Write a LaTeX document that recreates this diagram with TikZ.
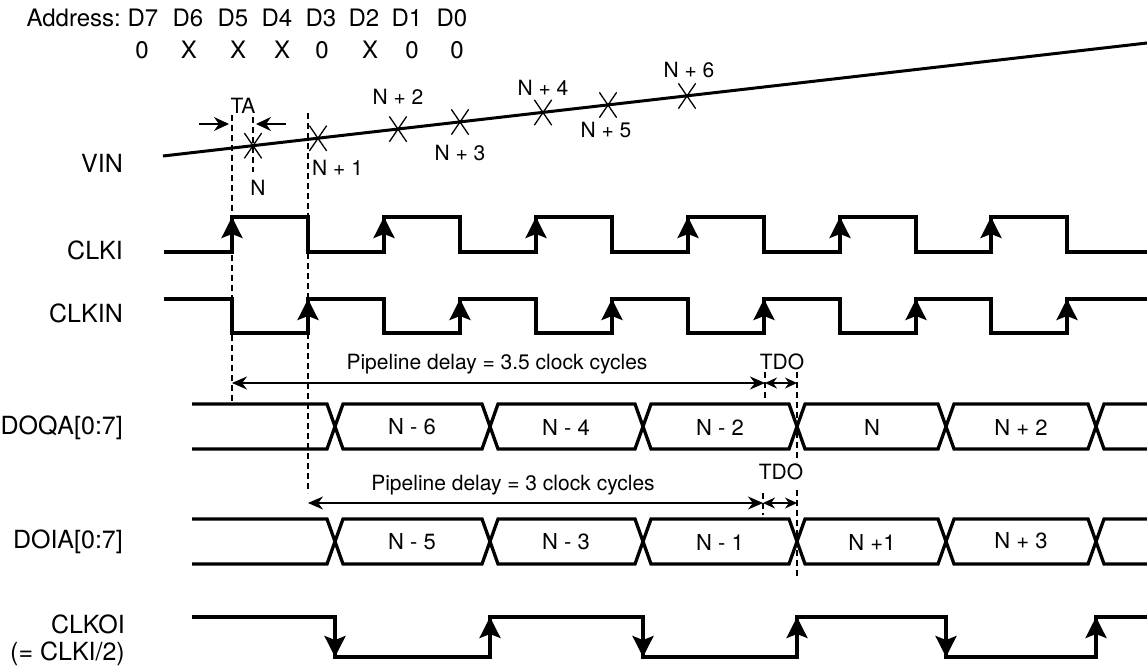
\documentclass[tikz,border=0pt]{standalone}
\usepackage{fontspec}
\setmainfont{TeX Gyre Heros}
\usetikzlibrary{arrows.meta}
\usetikzlibrary{shapes.misc}

\newcommand{\databus}[2]{%
	\draw[wave] (192, #1)--(327, #1)--(343, #2)--(482, #2)--(498, #1)--(635, #1)--(651, #2)--(789, #2)--(805, #1)--(938, #1)--(954, #2)--(1088, #2)--(1104, #1)--(1147, #1);
	\draw[wave] (192, #2)--(327, #2)--(343, #1)--(482, #1)--(498, #2)--(635, #2)--(651, #1)--(789, #1)--(805, #2)--(938, #2)--(954, #1)--(1088, #1)--(1104, #2)--(1147, #2);
}

\begin{document}
\begin{tikzpicture}[x = 1pt, y = -1pt,
	wave/.style = {line width = 3.3pt},
	edgetip/.style = {line width = 3.3pt, -{Stealth[length = 21pt, width = 21pt, inset = 4pt]}},
	guide/.style = {line width = 1.1pt, dash pattern = on 6pt off 4pt},
	delay/.style = {line width = 1.2pt, {Stealth[length = 15pt, width = 13pt]}-{Stealth[length = 15pt, width = 13pt]}},
	tdo/.style = {line width = 1.2pt, {Stealth[length = 12pt, width = 11pt]}-{Stealth[length = 12pt, width = 11pt]}},
	tarrow/.style = {line width = 1.2pt, -{Stealth[length = 15pt, width = 14pt]}},
	sample/.style = {draw, cross out, line width = 1.3pt, minimum width = 16pt, minimum height = 24pt, inner sep = 0pt},
	signame/.style = {anchor = east, align = right, inner sep = 0pt, font = \fontsize{25}{27}\selectfont},
	addr/.style = {inner sep = 0pt, font = \fontsize{24}{26}\selectfont},
	smalltext/.style = {inner sep = 0pt, font = \fontsize{21}{24}\selectfont},
	celltext/.style = {inner sep = 0pt, font = \fontsize{22}{24}\selectfont},
	delaytext/.style = {inner sep = 0pt, font = \fontsize{21}{24}\selectfont}]
	\useasboundingbox (0, 0) rectangle (1147, 666);

	\node[addr, anchor = east] (addr) at (121, 18) {Address:};
	\foreach \x/\d/\v/\u [count = \i] in {143/D7/0/142, 188/D6/X/189, 233/D5/X/238, 277/D4/X/282, 321/D3/0/322, 364/D2/X/370, 407/D1/0/412, 452/D0/0/457} {
		\node[addr] (bit\i) at (\x, 18) {\d};
		\node[addr] (val\i) at (\u, 50) {\v};
	}

	\node[signame] (vin) at (123, 163) {VIN};
	\node[signame] (clki) at (123, 250) {CLKI};
	\node[signame] (clkin) at (123, 313) {CLKIN};
	\node[signame] (doqa) at (123, 428) {DOQA[0:7]};
	\node[signame] (doia) at (123, 542) {DOIA[0:7]};
	\node[signame] (clkoi) at (125, 640) {CLKOI\\(= CLKI/2)};

	\coordinate (vs) at (163, 156);
	\coordinate (ve) at (1147, 43);
	\draw[line width = 3pt] (vs)--(ve);
	\node[sample] (s0) at (253, 145.7) {};
	\node[sample] (s1) at (318, 138.3) {};
	\node[sample] (s2) at (398, 129.1) {};
	\node[sample] (s3) at (460, 122) {};
	\node[sample] (s4) at (543, 112.5) {};
	\node[sample] (s5) at (608, 105) {};
	\node[sample] (s6) at (687, 96) {};
	\node[smalltext] (n0) at (258, 188) {N};
	\node[smalltext, anchor = west] (n1) at (312, 168) {N + 1};
	\node[smalltext] (n2) at (398, 97) {N + 2};
	\node[smalltext] (n3) at (460, 153) {N + 3};
	\node[smalltext] (n4) at (543, 88) {N + 4};
	\node[smalltext] (n5) at (606, 130) {N + 5};
	\node[smalltext] (n6) at (689, 70) {N + 6};

	\node[smalltext] (ta) at (243, 106) {TA};
	\draw[tarrow] (199, 124)--(229, 124);
	\draw[tarrow] (286, 124)--(256, 124);
	\draw[guide] (232, 115)--(232, 404);
	\draw[guide] (253, 117)--(253, 172);
	\draw[guide] (308, 113)--(308, 493);

	\draw[wave] (164, 252)--(232, 252)--(232, 217)--(308, 217)--(308, 252)--(384, 252)--(384, 217)--(460, 217)--(460, 252)--(536, 252)--(536, 217)--(612, 217)--(612, 252)--(688, 252)--(688, 217)--(764, 217)--(764, 252)--(840, 252)--(840, 217)--(916, 217)--(916, 252)--(991, 252)--(991, 217)--(1067, 217)--(1067, 252)--(1147, 252);
	\foreach \x in {232, 384, 536, 688, 840, 991}
		\draw[edgetip] (\x, 252)--(\x, 217);

	\draw[wave] (164, 299)--(232, 299)--(232, 333)--(308, 333)--(308, 299)--(384, 299)--(384, 333)--(460, 333)--(460, 299)--(536, 299)--(536, 333)--(612, 333)--(612, 299)--(688, 299)--(688, 333)--(764, 333)--(764, 299)--(840, 299)--(840, 333)--(916, 333)--(916, 299)--(991, 299)--(991, 333)--(1067, 333)--(1067, 299)--(1147, 299);
	\foreach \x in {308, 460, 612, 764, 916, 1067}
		\draw[edgetip] (\x, 333)--(\x, 299);

	\node[delaytext] (pd1) at (497, 364) {Pipeline delay = 3.5 clock cycles};
	\draw[delay] (232, 383)--(765, 383);
	\node[smalltext] (tdo1) at (782, 362) {TDO};
	\draw[guide] (765, 372)--(765, 400);
	\draw[guide] (797, 372)--(797, 462);
	\draw[tdo] (765, 383)--(797, 383);

	\databus{404}{449}
	\node[celltext] (qa0) at (412, 427) {N - 6};
	\node[celltext] (qa1) at (566, 427) {N - 4};
	\node[celltext] (qa2) at (720, 427) {N - 2};
	\node[celltext] (qa3) at (872, 427) {N};
	\node[celltext] (qa4) at (1021, 427) {N + 2};

	\node[delaytext] (pd2) at (513, 485) {Pipeline delay = 3 clock cycles};
	\draw[delay] (308, 503)--(763, 503);
	\node[smalltext] (tdo2) at (781, 472) {TDO};
	\draw[guide] (763, 493)--(763, 515);
	\draw[guide] (797, 490)--(797, 578);
	\draw[tdo] (763, 503)--(797, 503);

	\databus{519}{564}
	\node[celltext] (ia0) at (412, 542) {N - 5};
	\node[celltext] (ia1) at (566, 542) {N - 3};
	\node[celltext] (ia2) at (720, 542) {N - 1};
	\node[celltext] (ia3) at (872, 542) {N +1};
	\node[celltext] (ia4) at (1021, 541) {N + 3};

	\draw[wave] (192, 617)--(335, 617)--(335, 657)--(490, 657)--(490, 617)--(643, 617)--(643, 657)--(797, 657)--(797, 617)--(946, 617)--(946, 657)--(1096, 657)--(1096, 617)--(1147, 617);
	\foreach \x in {335, 643, 946}
		\draw[edgetip] (\x, 617)--(\x, 657);
	\foreach \x in {490, 797, 1096}
		\draw[edgetip] (\x, 657)--(\x, 617);
\end{tikzpicture}
\end{document}
